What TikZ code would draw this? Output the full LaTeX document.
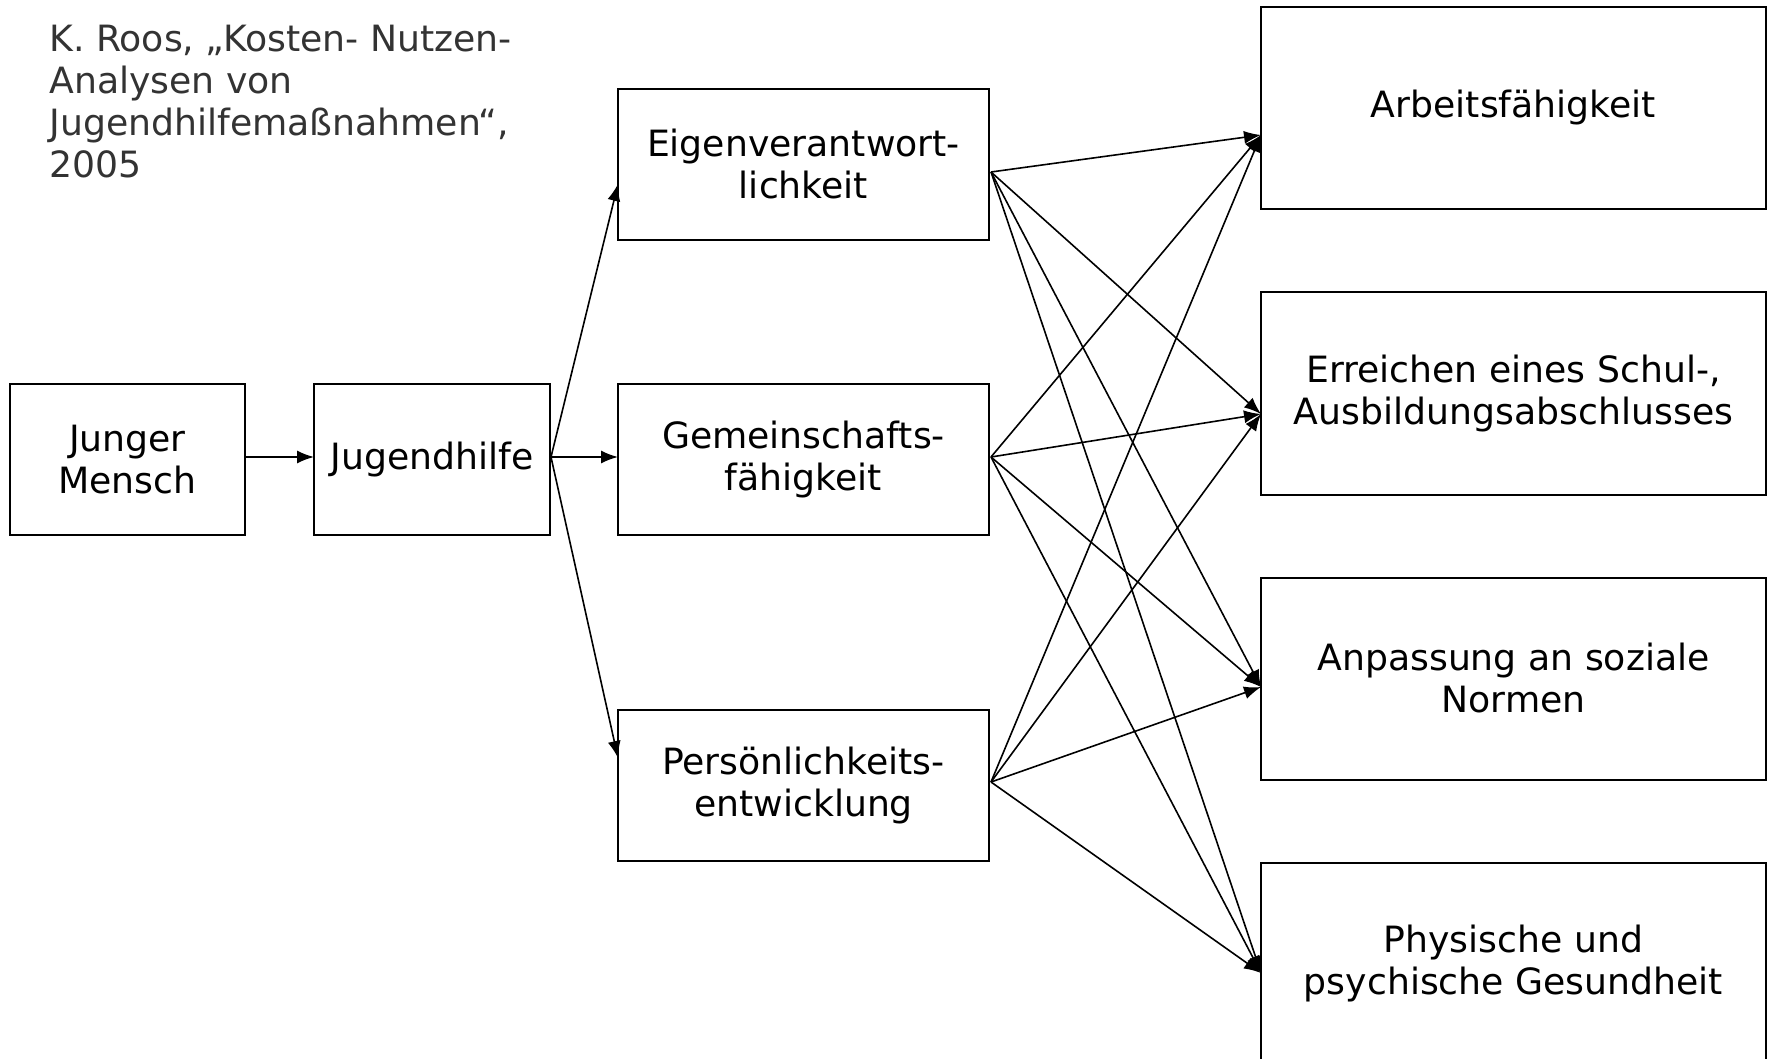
\documentclass[tikz,border=0pt]{standalone}
\usepackage{fontspec}
\setmainfont{DejaVu Sans}
\usetikzlibrary{arrows.meta}
\definecolor{titlegray}{HTML}{333333}
\begin{document}
\begin{tikzpicture}[x=0.5pt,y=-0.5pt,
  box/.style={draw, line width=1pt, rectangle, align=center, inner sep=0pt,
    font=\fontsize{18.1}{21}\selectfont},
  smallbox/.style={box, minimum height=75.5pt},
  bigbox/.style={box, minimum width=252.5pt, minimum height=101pt},
  arr/.style={-{Latex[length=8.5pt,width=6.5pt]}, line width=0.8pt}]
\useasboundingbox[fill=white] (0,0) rectangle (1772,1059);

\node[anchor=north west, align=left, text=titlegray, inner sep=0pt,
  font=\fontsize{18.1}{21}\selectfont] (T) at (49,25)
  {K. Roos, „Kosten- Nutzen-\\Analysen von\\Jugendhilfemaßnahmen“,\\2005};

\node[smallbox, minimum width=117.5pt] (J) at (127.5,459.5) {Junger\\Mensch};
\node[smallbox, minimum width=118pt] (Jh) at (432,459.5) {Jugendhilfe};
\node[smallbox, minimum width=185.5pt] (E) at (803.5,164.5) {Eigenverantwort-\\lichkeit};
\node[smallbox, minimum width=185.5pt] (G) at (803.5,459.5) {Gemeinschafts-\\fähigkeit};
\node[smallbox, minimum width=185.5pt] (P) at (803.5,785.5) {Persönlichkeits-\\entwicklung};

\node[bigbox] (A) at (1513.5,108) {Arbeitsfähigkeit};
\node[bigbox] (R) at (1513.5,393.5) {Erreichen eines Schul-,\\Ausbildungsabschlusses};
\node[bigbox] (N) at (1513.5,678.5) {Anpassung an soziale\\Normen};
\node[bigbox] (H) at (1513.5,964) {Physische und\\psychische Gesundheit};

% connector end points
\coordinate (Jo) at (245,457);
\coordinate (Jhi) at (314,457);
\coordinate (Jho) at (551,457);
\coordinate (Ei) at (618,184);
\coordinate (Gi) at (618,457);
\coordinate (Pi) at (618,758);
\coordinate (Eo) at (991,172);
\coordinate (Go) at (991,457);
\coordinate (Po) at (991,782);
\coordinate (Ai) at (1261,135);
\coordinate (Ri) at (1261,414);
\coordinate (Ni) at (1261,687);
\coordinate (Hi) at (1261,973);

\draw[arr] (Jo) -- (Jhi);
\draw[arr] (Jho) -- (Ei);
\draw[arr] (Jho) -- (Gi);
\draw[arr] (Jho) -- (Pi);

\foreach \s in {Eo,Go,Po}{
  \foreach \t in {Ai,Ri,Ni,Hi}{
    \draw[arr] (\s) -- (\t);
  }
}
\end{tikzpicture}
\end{document}
